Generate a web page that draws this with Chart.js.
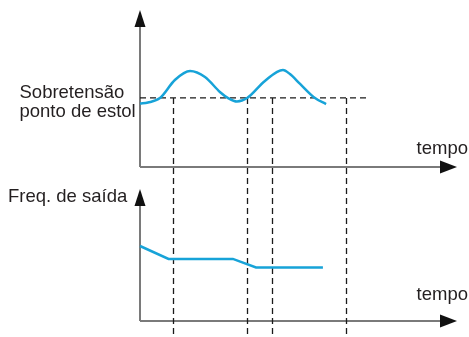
<!DOCTYPE html>
<html>
<head>
<meta charset="utf-8">
<script src="https://cdn.jsdelivr.net/npm/chart.js@4.4.1/dist/chart.umd.min.js"></script>
<style>
  html, body { margin: 0; padding: 0; background: #fff; }
  canvas { display: block; }
</style>
</head>
<body>
<canvas id="grafico" width="469" height="337"></canvas>
<script>
// tempo (0..100 = comprimento do eixo) e valores
const tempoTensao = [0, 2.5, 6.3, 11.0, 15.8, 20.5, 25.2, 27.8, 30.6, 33.8, 39.4, 45.1, 47.3, 50.5, 55.2, 58.7];
const sobretensao = [40.4, 41.1, 43.9, 55.4, 61.1, 57.3, 47.8, 43.9, 41.7, 43.9, 54.8, 61.8, 59.2, 52.9, 43.9, 40.1];

const tempoFreq = [0, 9.0, 29.3, 36.6, 57.7];
const freqSaida = [56.8, 47, 47, 40.5, 40.5];

// nivel de estol (linha tracejada) e instantes marcados
const nivelEstol = 44;
const fimEstol = 71.3;
const marcasTempo = [10.4, 33.8, 41.6, 65.0];

const rotulosTensao = ['Sobretensão', 'ponto de estol'];
const rotuloFreq = 'Freq. de saída';
const rotuloTempo = 'tempo';

const AZUL = '#17a3d8';
const TEXTO = '#231f20';
const EIXO = '#7a7a7a';
const FONTE = '18.5px "Liberation Sans", Arial, sans-serif';

const pontos = (xs, ys) => xs.map((x, i) => ({ x: x, y: ys[i] }));

function seta(ctx, x, y, dir) {
  ctx.beginPath();
  if (dir === 'up') {
    ctx.moveTo(x, y);
    ctx.lineTo(x - 5.5, y + 17);
    ctx.lineTo(x + 5.5, y + 17);
  } else {
    ctx.moveTo(x, y);
    ctx.lineTo(x - 17, y - 6.5);
    ctx.lineTo(x - 17, y + 6.5);
  }
  ctx.closePath();
  ctx.fillStyle = '#111';
  ctx.fill();
}

const desenhoFundo = {
  id: 'desenhoFundo',
  beforeDatasetsDraw(chart) {
    const ctx = chart.ctx;
    const x = chart.scales.x;
    const yV = chart.scales.yV;
    const yF = chart.scales.yF;
    const x0 = x.getPixelForValue(0);
    const xEnd = x.getPixelForValue(100);

    ctx.save();
    // eixos
    ctx.strokeStyle = EIXO;
    ctx.lineWidth = 2;
    ctx.beginPath();
    ctx.moveTo(x0, yV.getPixelForValue(0));
    ctx.lineTo(x0, yV.getPixelForValue(100) + 14);
    ctx.moveTo(x0, yV.getPixelForValue(0));
    ctx.lineTo(xEnd - 14, yV.getPixelForValue(0));
    ctx.moveTo(x0, yF.getPixelForValue(0));
    ctx.lineTo(x0, yF.getPixelForValue(100) + 14);
    ctx.moveTo(x0, yF.getPixelForValue(0));
    ctx.lineTo(xEnd - 14, yF.getPixelForValue(0));
    ctx.stroke();

    // linhas tracejadas
    const yEstol = yV.getPixelForValue(nivelEstol);
    ctx.strokeStyle = '#1a1a1a';
    ctx.lineWidth = 1.3;
    ctx.setLineDash([6, 4]);
    ctx.beginPath();
    ctx.moveTo(x0, yEstol);
    ctx.lineTo(x.getPixelForValue(fimEstol), yEstol);
    ctx.stroke();
    marcasTempo.forEach(t => {
      const px = Math.round(x.getPixelForValue(t)) + 0.5;
      ctx.beginPath();
      ctx.moveTo(px, yEstol);
      ctx.lineTo(px, chart.height);
      ctx.stroke();
    });
    ctx.restore();
  },
  afterDraw(chart) {
    const ctx = chart.ctx;
    const x = chart.scales.x;
    const yV = chart.scales.yV;
    const yF = chart.scales.yF;
    const x0 = x.getPixelForValue(0);
    const xEnd = x.getPixelForValue(100);

    ctx.save();
    seta(ctx, x0, yV.getPixelForValue(100), 'up');
    seta(ctx, xEnd, yV.getPixelForValue(0), 'right');
    seta(ctx, x0, yF.getPixelForValue(100), 'up');
    seta(ctx, xEnd, yF.getPixelForValue(0), 'right');

    ctx.fillStyle = TEXTO;
    ctx.font = FONTE;
    ctx.textBaseline = 'alphabetic';
    ctx.textAlign = 'left';
    const yEstol = yV.getPixelForValue(nivelEstol);
    ctx.fillText(rotulosTensao[0], 19.5, yEstol);
    ctx.fillText(rotulosTensao[1], 19.5, yEstol + 19);
    ctx.fillText(rotuloFreq, 8, 202);
    ctx.textAlign = 'right';
    ctx.fillText(rotuloTempo, 468, 154);
    ctx.fillText(rotuloTempo, 468, 300);
    ctx.restore();
  }
};

new Chart(document.getElementById('grafico'), {
  type: 'line',
  data: {
    datasets: [
      {
        label: 'Sobretensão',
        data: pontos(tempoTensao, sobretensao),
        yAxisID: 'yV',
        borderColor: AZUL,
        borderWidth: 2.5,
        pointRadius: 0,
        cubicInterpolationMode: 'monotone',
        clip: false
      },
      {
        label: 'Freq. de saída',
        data: pontos(tempoFreq, freqSaida),
        yAxisID: 'yF',
        borderColor: AZUL,
        borderWidth: 2.5,
        pointRadius: 0,
        tension: 0,
        clip: false
      }
    ]
  },
  options: {
    responsive: false,
    animation: false,
    events: [],
    layout: { padding: { left: 140, right: 12, top: 10, bottom: 16 } },
    plugins: { legend: { display: false }, tooltip: { enabled: false } },
    scales: {
      x: { type: 'linear', min: 0, max: 100, display: false },
      // weight maior fica em cima na pilha
      yV: { type: 'linear', position: 'left', stack: 'graficos', stackWeight: 170, weight: 2, min: -8.28, max: 100, display: false },
      yF: { type: 'linear', position: 'left', stack: 'graficos', stackWeight: 141, weight: 1, min: 0, max: 106.8, display: false }
    }
  },
  plugins: [desenhoFundo]
});
</script>
</body>
</html>
